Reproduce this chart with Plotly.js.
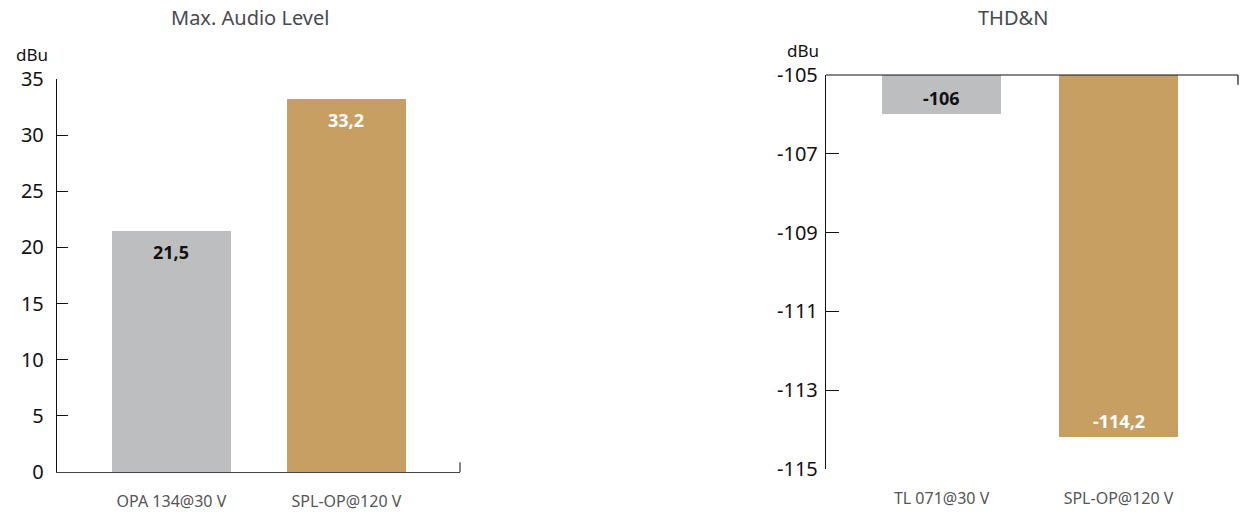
<!DOCTYPE html>
<html><head><meta charset="utf-8">
<script src="https://cdn.plot.ly/plotly-3.0.1.min.js"></script>
<style>html,body{margin:0;padding:0;background:#fff}</style>
</head><body><div id="chart" style="width:1247px;height:521px"></div>
<script>
const levelCategories = ['OPA 134@30 V', 'SPL-OP@120 V'];
const levelValues = [21.5, 33.2];
const thdCategories = ['TL 071@30 V', 'SPL-OP@120 V'];
const thdValues = [-106, -114.2];
const thdBase = -105;
const levelTicks = [0, 5, 10, 15, 20, 25, 30, 35];
const thdTicks = [-105, -107, -109, -111, -113, -115];
const barColors = ['#BDBEC0', '#C89F62'];
const labelColors = ['#111111', '#FFFFFF'];

const fmt = v => String(v).replace('.', ',');
const FONT = 'Noto Sans, Open Sans, sans-serif';

const traces = [
  {type: 'bar', x: levelCategories, y: levelValues, xaxis: 'x', yaxis: 'y',
   marker: {color: barColors, line: {width: 0}}, width: 0.68, hoverinfo: 'x+y'},
  {type: 'bar', x: thdCategories, y: thdValues.map(v => v - thdBase), base: thdBase,
   xaxis: 'x2', yaxis: 'y2',
   marker: {color: barColors, line: {width: 0}}, width: 0.672, hoverinfo: 'x'}
];

const annotations = [];
levelCategories.forEach((c, i) => annotations.push({
  xref: 'x', yref: 'y', x: c, y: levelValues[i], yshift: -21, showarrow: false,
  yanchor: 'middle',
  text: '<b>' + fmt(levelValues[i]) + '</b>', font: {family: FONT, size: 18, color: labelColors[i]}
}));
thdCategories.forEach((c, i) => annotations.push({
  xref: 'x2', yref: 'y2', x: c, y: thdValues[i], yshift: 16, showarrow: false,
  yanchor: 'middle',
  text: '<b>' + fmt(thdValues[i]) + '</b>', font: {family: FONT, size: 18, color: labelColors[i]}
}));
annotations.push(
  {xref: 'paper', yref: 'paper', x: (250 - 57) / 1181, y: 1, yshift: 58, showarrow: false,
   yanchor: 'middle', xanchor: 'center',
   text: 'Max. Audio Level', font: {family: FONT, size: 20, color: '#464a50'}},
  {xref: 'paper', yref: 'paper', x: (1013 - 57) / 1181, y: 1, yshift: 58, showarrow: false,
   yanchor: 'middle', xanchor: 'center',
   text: 'THD&N', font: {family: FONT, size: 20, color: '#464a50'}},
  {xref: 'paper', yref: 'paper', x: (32 - 57) / 1181, y: 1, yshift: 21, showarrow: false,
   yanchor: 'middle', xanchor: 'center',
   text: 'dBu', font: {family: FONT, size: 17, color: '#111'}},
  {xref: 'paper', yref: 'paper', x: (803 - 57) / 1181, y: 1, yshift: 25, showarrow: false,
   yanchor: 'middle', xanchor: 'center',
   text: 'dBu', font: {family: FONT, size: 17, color: '#111'}}
);

const shapes = [
  {type: 'line', xref: 'x2 domain', yref: 'y2 domain', x0: 0, x1: 1, y0: 1, y1: 1,
   line: {color: '#111', width: 1.2}},
  {type: 'line', xref: 'x2 domain', yref: 'y2 domain', x0: 1, x1: 1, y0: 1, y1: 0.975,
   line: {color: '#111', width: 1.2}},
  {type: 'line', xref: 'x domain', yref: 'y domain', x0: 1, x1: 1, y0: 0, y1: 0.025,
   line: {color: '#333', width: 1.2}}
];

const layout = {
  width: 1247, height: 521,
  margin: {l: 57, r: 9, t: 75, b: 49},
  paper_bgcolor: '#fff', plot_bgcolor: '#fff',
  showlegend: false, bargap: 0,
  font: {family: FONT, color: '#111'},
  xaxis: {domain: [0, (460 - 57) / 1181], range: [-0.654, 1.649], type: 'category',
    showgrid: false, zeroline: false, showline: true, linecolor: '#444', linewidth: 1.2,
    ticks: '', ticklabelstandoff: 15,
    tickfont: {family: FONT, size: 16, color: '#555'}, fixedrange: true},
  yaxis: {domain: [0, (472 - 79) / 397], range: [0, 35], tickvals: levelTicks,
    ticktext: levelTicks.map(String),
    showgrid: false, zeroline: false, showline: true, linecolor: '#111', linewidth: 1.2,
    ticks: 'inside', ticklen: 11, tickcolor: '#111', tickwidth: 1.2, ticklabelstandoff: 8,
    tickfont: {family: FONT, size: 20, color: '#111'}, fixedrange: true},
  xaxis2: {domain: [(826 - 57) / 1181, 1], range: [-0.653, 1.675], type: 'category', anchor: 'y2',
    showgrid: false, zeroline: false, showline: false,
    ticks: '', ticklabelstandoff: 18,
    tickfont: {family: FONT, size: 16, color: '#555'}, fixedrange: true},
  yaxis2: {domain: [3 / 397, 1], range: [-115, -105], tickvals: thdTicks, anchor: 'x2',
    ticktext: thdTicks.map(String),
    showgrid: false, zeroline: false, showline: true, linecolor: '#111', linewidth: 1.2,
    ticks: 'inside', ticklen: 13, tickcolor: '#111', tickwidth: 1.2, ticklabelstandoff: 3,
    tickfont: {family: FONT, size: 20, color: '#111'}, fixedrange: true},
  annotations: annotations,
  shapes: shapes
};

Plotly.newPlot('chart', traces, layout, {displayModeBar: false, staticPlot: true});
</script></body></html>
